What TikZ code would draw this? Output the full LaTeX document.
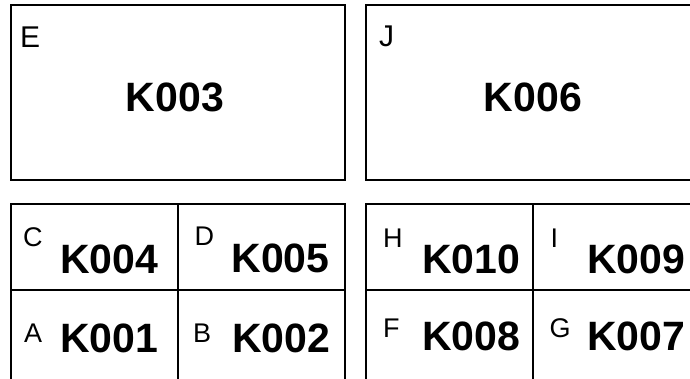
\documentclass[tikz,border=0pt]{standalone}
\usepackage{fontspec}
\setmainfont{Liberation Sans}
\begin{document}
\begin{tikzpicture}[x=1pt,y=-1pt,
  frame/.style={draw=black,line width=2pt},
  big/.style={font=\fontsize{41}{41}\selectfont\bfseries,inner sep=0pt},
  toplbl/.style={font=\fontsize{30}{30}\selectfont,inner sep=0pt,anchor=base west},
  lbl/.style={font=\fontsize{27}{27}\selectfont,inner sep=0pt,anchor=base west}]
\useasboundingbox (0,0) rectangle (690,378);
\clip (0,0) rectangle (690,378);
% top boxes
\draw[frame] (11,5) rectangle (345,180);
\draw[frame] (365.5,5) rectangle (699.5,180);
% lower-left grid
\draw[frame] (11,204) rectangle (345,386);
\draw[frame] (178,204) -- (178,386);
\draw[frame] (11,290) -- (345,290);
% lower-right grid
\draw[frame] (365.5,204) rectangle (699.5,386);
\draw[frame] (532.5,204) -- (532.5,386);
\draw[frame] (365.5,290) -- (699.5,290);
% top texts
\node[toplbl] (lE) at (20,47.7) {E};
\node[big,anchor=base] (k3) at (175,111.7) {K003};
\node[toplbl] (lJ) at (379,46.5) {J};
\node[big,anchor=base] (k6) at (533,111.7) {K006};
% lower-left
\node[lbl] (lC) at (23,246) {C};
\node[big,anchor=base west] (k4) at (60,273) {K004};
\node[lbl] (lD) at (194.5,245.7) {D};
\node[big,anchor=base west] (k5) at (231.3,272) {K005};
\node[lbl] (lA) at (24,342) {A};
\node[big,anchor=base west] (k1) at (60,352) {K001};
\node[lbl] (lB) at (193,342) {B};
\node[big,anchor=base west] (k2) at (232,352) {K002};
% lower-right
\node[lbl] (lH) at (383,247) {H};
\node[big,anchor=base west] (k10) at (422,273) {K010};
\node[lbl] (lI) at (550.5,247) {I};
\node[big,anchor=base west] (k9) at (587,273) {K009};
\node[lbl] (lF) at (383,337) {F};
\node[big,anchor=base west] (k8) at (422,350) {K008};
\node[lbl] (lG) at (549.5,337) {G};
\node[big,anchor=base west] (k7) at (587,350) {K007};
\end{tikzpicture}
\end{document}
